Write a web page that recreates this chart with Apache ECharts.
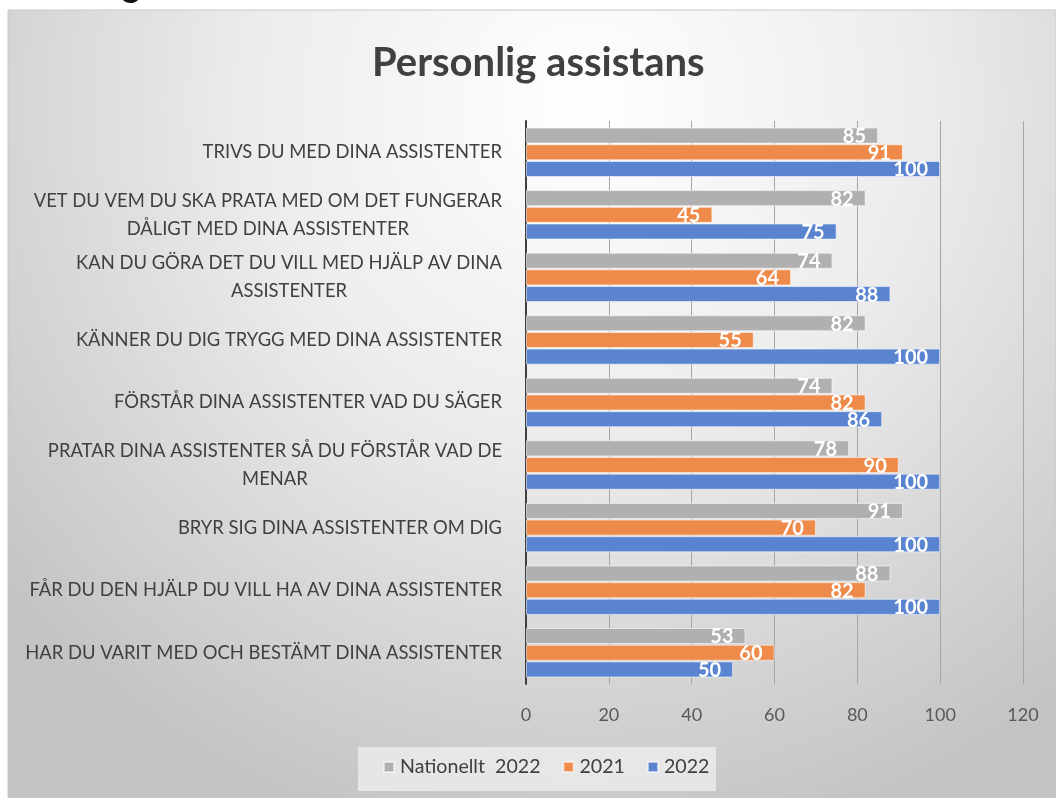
<!DOCTYPE html>
<html>
<head>
<meta charset="utf-8">
<script src="https://cdn.jsdelivr.net/npm/echarts@6/dist/echarts.min.js"></script>
<style>
html,body{margin:0;padding:0;background:#ffffff;}
#chart{width:1056px;height:798px;}
</style>
</head>
<body>
<div id="chart"></div>
<script>
const categories = [
  'TRIVS DU MED DINA ASSISTENTER',
  'VET DU VEM DU SKA PRATA MED OM DET FUNGERAR\nDÅLIGT MED DINA ASSISTENTER',
  'KAN DU GÖRA DET DU VILL MED HJÄLP AV DINA\nASSISTENTER',
  'KÄNNER DU DIG TRYGG MED DINA ASSISTENTER',
  'FÖRSTÅR DINA ASSISTENTER VAD DU SÄGER',
  'PRATAR DINA ASSISTENTER SÅ DU FÖRSTÅR VAD DE\nMENAR',
  'BRYR SIG DINA ASSISTENTER OM DIG',
  'FÅR DU DEN HJÄLP DU VILL HA AV DINA ASSISTENTER',
  'HAR DU VARIT MED OCH BESTÄMT DINA ASSISTENTER'
];
const seriesNames = ['Nationellt  2022', '2021', '2022'];
const nationellt2022 = [85, 82, 74, 82, 74, 78, 91, 88, 53];
const values2021 = [91, 45, 64, 55, 82, 90, 70, 82, 60];
const values2022 = [100, 75, 88, 100, 86, 100, 100, 100, 50];
const colors = ['#b0b0b0', '#ef8b4a', '#5a84d0'];

const FONT = 'Lato, "Open Sans", sans-serif';
const chart = echarts.init(document.getElementById('chart'), null, {renderer: 'canvas'});

function mkSeries(name, data, color) {
  return {
    name: name,
    type: 'bar',
    data: data,
    barGap: '4%',
    barCategoryGap: '21%',
    itemStyle: {color: color, borderColor: 'rgba(255,255,255,0.55)', borderWidth: 1},
    label: {
      show: true,
      position: 'insideRight',
      distance: 12,
      offset: [0, 1],
      color: '#ffffff',
      fontFamily: FONT,
      fontWeight: 'bold',
      fontSize: 20
    }
  };
}

chart.setOption({
  animation: false,
  backgroundColor: 'transparent',
  color: colors,
  graphic: [
    {
      type: 'rect', z: -10, silent: true,
      shape: {x: 8, y: 10, width: 1048, height: 788},
      style: {
        fill: {
          type: 'radial', x: 0.55, y: 0.12, r: 0.95,
          colorStops: [
            {offset: 0, color: '#ffffff'},
            {offset: 0.45, color: '#ececec'},
            {offset: 1, color: '#c4c4c4'}
          ]
        },
        stroke: '#c8c8c8', lineWidth: 1
      }
    },
    {
      type: 'rect', z: -5, silent: true,
      shape: {x: 358, y: 747, width: 358, height: 44},
      style: {fill: 'rgba(235,235,235,0.85)'}
    },
    {
      type: 'text', silent: true,
      left: 122, top: -31,
      style: {text: 'g', fontSize: 34, fontWeight: 'bold', fontFamily: FONT, fill: '#111111'}
    }
  ],
  title: {
    text: 'Personlig assistans',
    left: 367,
    top: 38,
    textStyle: {fontFamily: FONT, fontWeight: 'bold', fontSize: 40, color: '#404040'}
  },
  legend: {
    bottom: 16,
    left: 378,
    itemWidth: 10,
    itemHeight: 10,
    itemGap: 22,
    icon: 'rect',
    textStyle: {fontFamily: FONT, fontSize: 19.6, color: '#404040', padding: [0, 0, 0, 1]},
    data: seriesNames
  },
  grid: {left: 526, right: 33, top: 121, bottom: 114, containLabel: false},
  xAxis: {
    type: 'value',
    min: 0, max: 120, interval: 20,
    axisLine: {show: false},
    axisTick: {show: false},
    splitLine: {show: true, lineStyle: {color: '#a6a6a6', width: 1}},
    axisLabel: {fontFamily: FONT, fontSize: 18, color: '#595959', margin: 22}
  },
  yAxis: {
    type: 'category',
    inverse: true,
    data: categories,
    axisLine: {show: true, lineStyle: {color: '#404040', width: 2}},
    axisTick: {show: false},
    axisLabel: {
      fontFamily: FONT, fontSize: 18.4, color: '#404040', margin: 24, lineHeight: 28,
      formatter: function (v) {
        return v.split('\n').map(function (l) { return '{c|' + l + '}'; }).join('\n');
      },
      rich: {c: {align: 'center', fontFamily: FONT, fontSize: 18.4, color: '#404040', lineHeight: 28}}
    }
  },
  series: [
    mkSeries(seriesNames[0], nationellt2022, colors[0]),
    mkSeries(seriesNames[1], values2021, colors[1]),
    mkSeries(seriesNames[2], values2022, colors[2])
  ]
});
</script>
</body>
</html>
